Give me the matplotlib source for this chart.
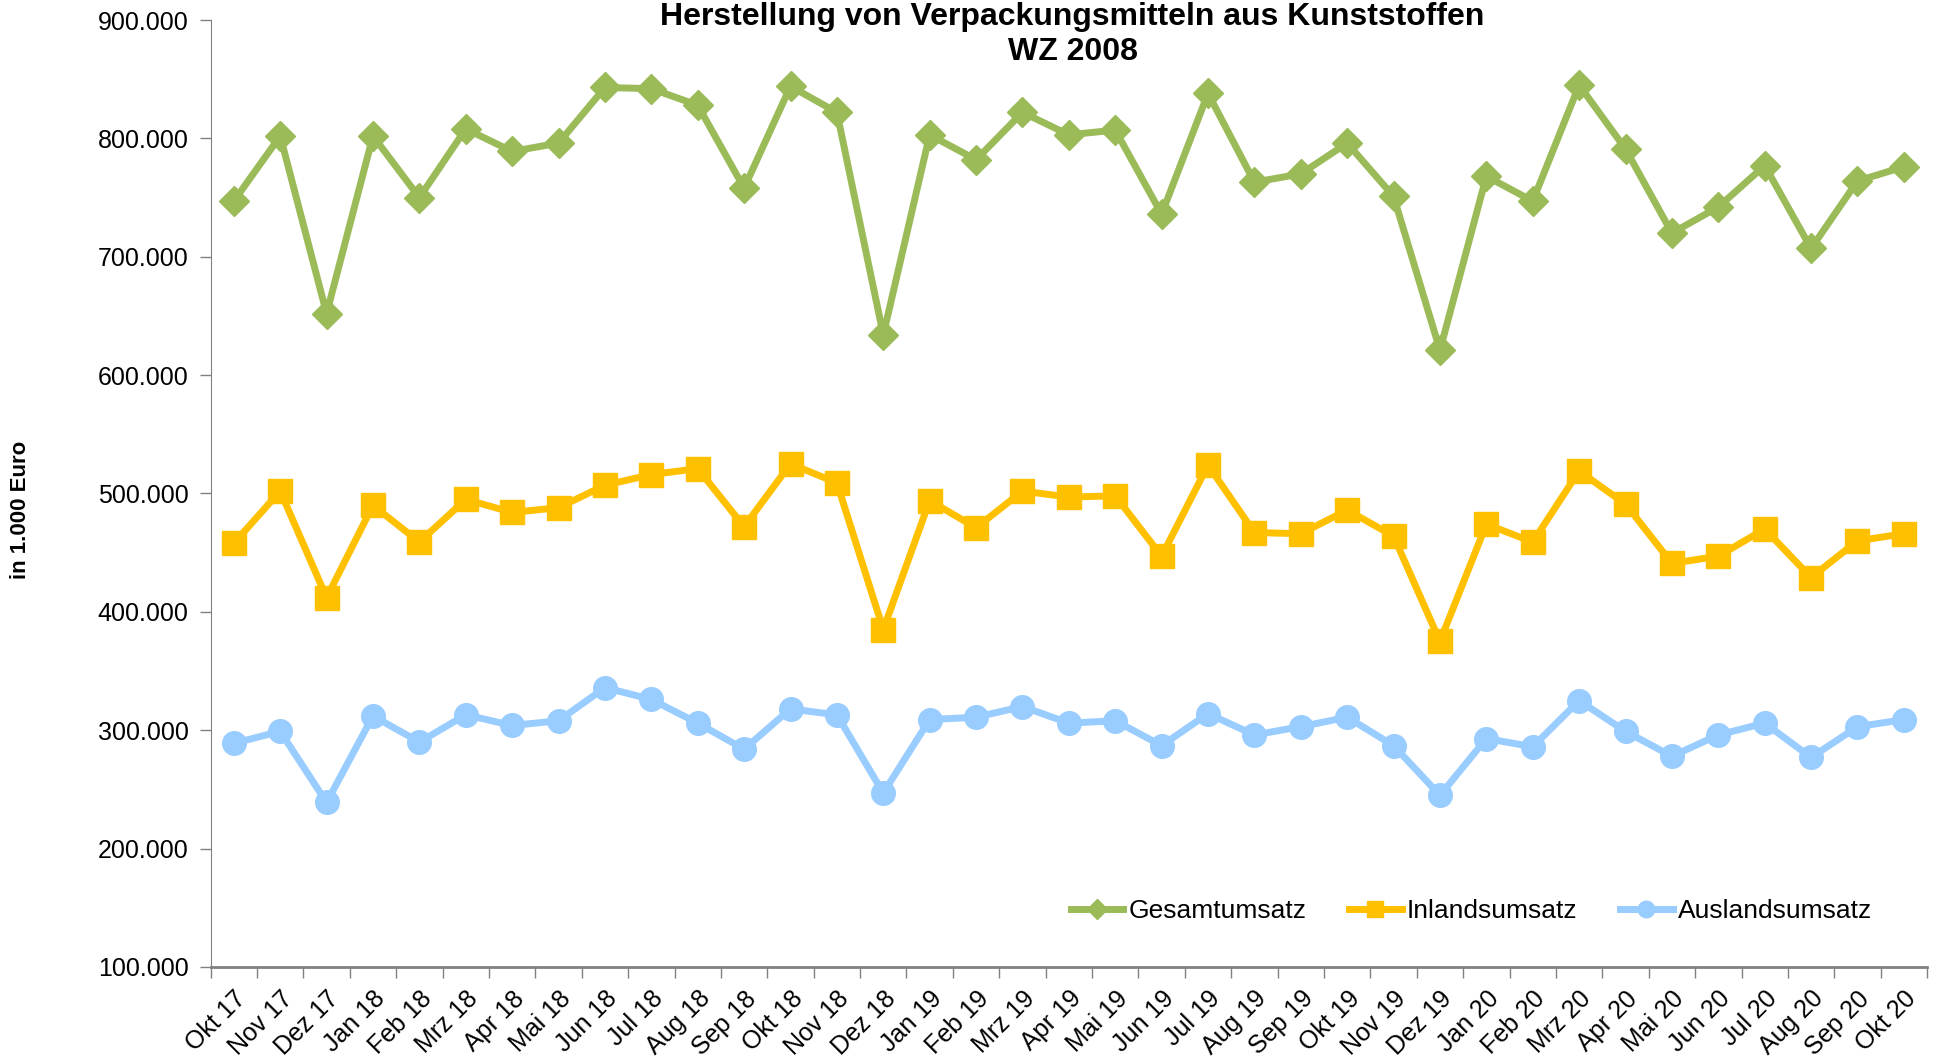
import matplotlib.pyplot as plt
import numpy as np

# Monatswerte in 1.000 Euro
monate = ["Okt 17", "Nov 17", "Dez 17", "Jan 18", "Feb 18", "Mrz 18", "Apr 18", "Mai 18",
          "Jun 18", "Jul 18", "Aug 18", "Sep 18", "Okt 18", "Nov 18", "Dez 18", "Jan 19",
          "Feb 19", "Mrz 19", "Apr 19", "Mai 19", "Jun 19", "Jul 19", "Aug 19", "Sep 19",
          "Okt 19", "Nov 19", "Dez 19", "Jan 20", "Feb 20", "Mrz 20", "Apr 20", "Mai 20",
          "Jun 20", "Jul 20", "Aug 20", "Sep 20", "Okt 20"]

gesamt = [747, 802, 652, 802, 750, 808, 789, 796, 843, 842, 828, 758, 844, 822, 634, 803,
          782, 822, 803, 807, 736, 838, 763, 770, 796, 751, 621, 768, 747, 845, 791, 720,
          742, 777, 707, 764, 776]

inland = [458, 502, 412, 490, 459, 495, 484, 488, 507, 516, 521, 472, 525, 509, 385, 494,
          471, 502, 497, 498, 447, 524, 467, 466, 486, 464, 375, 474, 459, 519, 491, 441,
          447, 470, 429, 460, 466]

ausland = [289, 299, 239, 312, 290, 313, 304, 308, 336, 326, 306, 284, 318, 313, 247, 309,
           311, 320, 306, 308, 287, 314, 296, 303, 311, 287, 245, 293, 286, 325, 299, 278,
           296, 306, 277, 303, 309]

GREEN = "#9BBB59"
YELLOW = "#FFC000"
BLUE = "#99CCFF"

plt.rcParams['font.family'] = ['Liberation Sans', 'DejaVu Sans']

fig = plt.figure(figsize=(19.43, 10.64), dpi=100)
ax = fig.add_axes([0.1084, 0.0912, 0.8834, 0.89])

x = np.arange(len(monate))
ax.plot(x, np.array(gesamt) * 1000, color=GREEN, lw=5, marker="D", ms=15, label="Gesamtumsatz")
ax.plot(x, np.array(inland) * 1000, color=YELLOW, lw=5, marker="s", ms=17, label="Inlandsumsatz")
ax.plot(x, np.array(ausland) * 1000, color=BLUE, lw=5, marker="o", ms=17, label="Auslandsumsatz")

ax.set_ylim(100000, 900000)
ax.set_xlim(-0.5, len(monate) - 0.5)

yt = np.arange(100000, 900001, 100000)
ax.set_yticks(yt)
ax.set_yticklabels([f"{v // 1000}.000" for v in yt], fontsize=18)

ax.set_xticks(np.arange(-0.5, len(monate)), minor=False)
ax.set_xticklabels([])
ax.set_xticks(x, minor=True)
ax.set_xticklabels(monate, minor=True, rotation=45, ha="right", rotation_mode="anchor", fontsize=18)
ax.tick_params(axis="x", which="minor", length=0, pad=14)
ax.tick_params(axis="x", which="major", length=8, color="#808080", width=1)
ax.tick_params(axis="y", length=8, color="#808080", width=1, pad=8)

for s in ["top", "right"]:
    ax.spines[s].set_visible(False)
ax.spines["left"].set_color("#808080")
ax.spines["bottom"].set_color("#808080")
ax.spines["bottom"].set_linewidth(2)

ax.set_ylabel("in 1.000 Euro", fontsize=16, fontweight="bold")
ax.yaxis.set_label_coords(-0.1045, 0.483)

fig.text(0.552, 0.998, "Herstellung von Verpackungsmitteln aus Kunststoffen\nWZ 2008",
         ha="center", va="top", fontsize=23, fontweight="bold", linespacing=1.2)

leg = ax.legend(loc="center right", bbox_to_anchor=(0.968, 0.059), ncol=3, frameon=False,
                fontsize=19, handlelength=2.0, columnspacing=1.6, handletextpad=0.2,
                markerscale=0.7, borderaxespad=0, borderpad=0)

fig.savefig("out.png", dpi=100)
